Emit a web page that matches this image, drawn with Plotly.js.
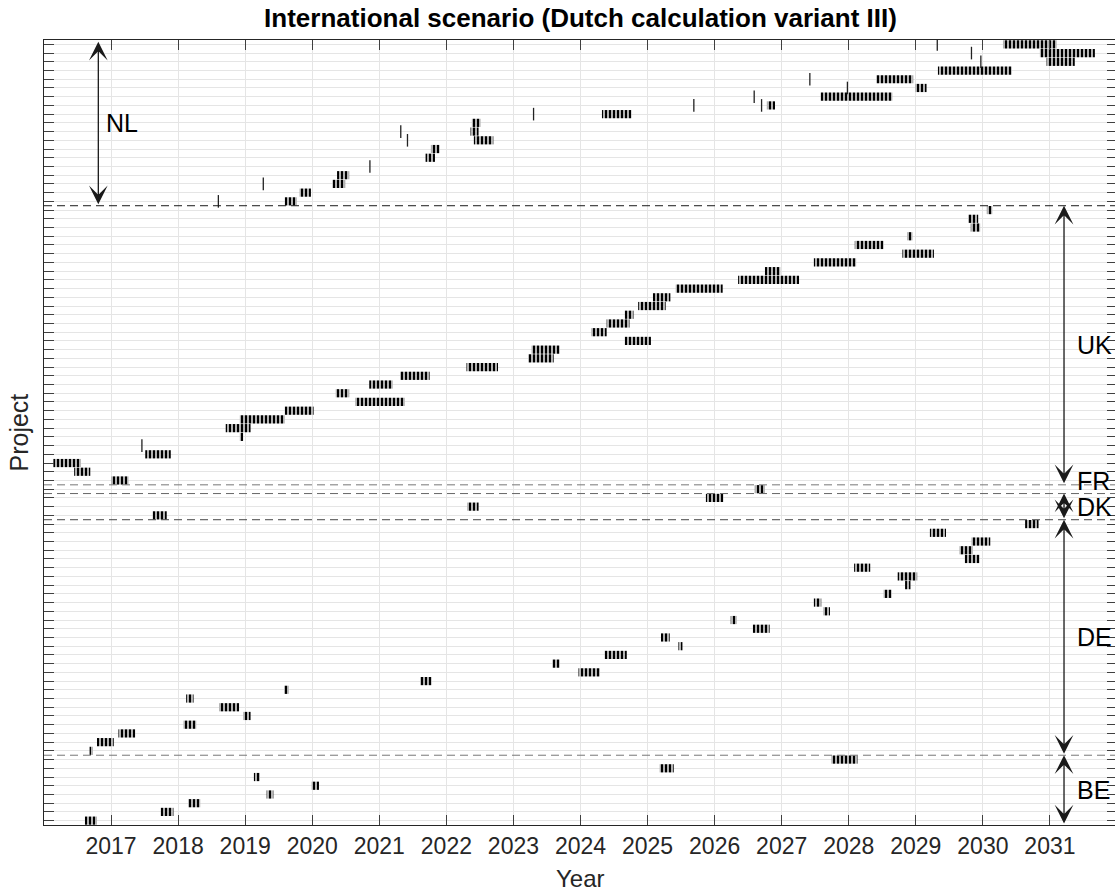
<!DOCTYPE html>
<html><head><meta charset="utf-8">
<script src="https://cdn.plot.ly/plotly-3.0.1.min.js"></script>
<style>html,body{margin:0;padding:0;overflow:hidden;background:#fff}#chart{width:1117px;height:895px}</style>
</head><body><div id="chart"></div>
<script>
// ---------------- data ----------------
const years = [2017,2018,2019,2020,2021,2022,2023,2024,2025,2026,2027,2028,2029,2030,2031];
const groups = ['BE','DE','DK','FR','UK','NL'];
const groupFirstRow = [1, 9, 36, 39, 40, 72];
const groupLastRow  = [8, 35, 38, 39, 71, 90];

// segments: [project row, start year, end year]
const nlSegments = [
 [90,2030.30,2031.10],[89,2030.85,2031.67],[88,2030.95,2031.37],[87,2029.33,2030.43],
 [86,2028.41,2028.96],[85,2028.99,2029.16],[84,2027.58,2028.65],[83,2026.78,2026.90],
 [82,2024.32,2024.76],[81,2022.38,2022.51],[80,2022.36,2022.48],[79,2022.41,2022.70],
 [78,2021.77,2021.90],[77,2021.69,2021.83],[75,2020.37,2020.55],[74,2020.30,2020.49],
 [73,2019.81,2019.98],[72,2019.59,2019.77]
];
const nlSingles = [
 [90,2029.32],[89,2029.83],[88,2029.97],[86,2027.42],[85,2027.98],[84,2026.59],[83,2025.69],
 [83,2026.70],[82,2023.30],[80,2021.32],[79,2021.42],[76,2020.86],[74,2019.27],[72,2018.60]
];
const ukSegments = [
 [71,2030.06,2030.14],[70,2029.78,2029.93],[69,2029.82,2029.96],[68,2028.87,2028.95],
 [67,2028.09,2028.52],[66,2028.80,2029.27],[65,2027.48,2028.11],[64,2026.75,2026.98],
 [63,2026.35,2027.26],[62,2025.42,2026.12],[61,2025.08,2025.34],[60,2024.86,2025.27],
 [59,2024.66,2024.79],[58,2024.39,2024.73],[57,2024.16,2024.39],[56,2024.66,2025.05],
 [55,2023.27,2023.69],[54,2023.22,2023.60],[53,2022.30,2022.77],[52,2021.31,2021.75],
 [51,2020.85,2021.20],[50,2020.35,2020.55],[49,2020.64,2021.38],[48,2019.59,2020.02],
 [47,2018.92,2019.59],[46,2018.71,2019.08],[45,2018.92,2018.97],[43,2017.51,2017.89],
 [42,2016.14,2016.55],[41,2016.45,2016.69],[40,2017.00,2017.26]
];
const ukSingles = [[44,2017.46]];
const frSegments = [[39,2026.60,2026.75]];
const dkSegments = [[38,2025.87,2026.13],[37,2022.31,2022.48],[36,2017.62,2017.83]];
const deSegments = [
 [35,2030.63,2030.83],[34,2029.21,2029.45],[33,2029.83,2030.11],[32,2029.65,2029.85],
 [31,2029.73,2029.95],[30,2028.08,2028.32],[29,2028.73,2029.02],[28,2028.84,2028.92],
 [27,2028.52,2028.64],[26,2027.48,2027.59],[25,2027.62,2027.72],[24,2026.24,2026.33],
 [23,2026.57,2026.82],[22,2025.20,2025.33],[21,2025.46,2025.52],[20,2024.36,2024.69],
 [19,2023.58,2023.69],[18,2023.97,2024.29],[17,2021.61,2021.78],[16,2019.58,2019.65],
 [15,2018.12,2018.23],[14,2018.61,2018.91],[13,2018.97,2019.08],[12,2018.08,2018.27],
 [11,2017.11,2017.36],[10,2016.79,2017.04],[9,2016.68,2016.73]
];
const beSegments = [
 [8,2027.74,2028.13],[7,2025.18,2025.39],[6,2019.13,2019.22],[5,2019.99,2020.10],
 [4,2019.32,2019.42],[3,2018.15,2018.33],[2,2017.74,2017.93],[1,2016.61,2016.79]
];

// ---------------- traces ----------------
const FONT = '"Liberation Sans", Arial, Helvetica, sans-serif';
const allSegments = [nlSegments, ukSegments, frSegments, dkSegments, deSegments, beSegments];
const allSingles = [nlSingles, ukSingles];
const traces = [];
allSegments.forEach(seg => {
  traces.push({
    type: 'bar', orientation: 'h',
    y: seg.map(s => s[0]),
    base: seg.map(s => s[1]),
    x: seg.map(s => s[2] - s[1]),
    width: 0.94,
    marker: {color: '#ffffff', line: {width: 0},
      pattern: {shape: '|', fgcolor: '#000000', bgcolor: '#ffffff', size: 4, solidity: 0.65}},
    hoverinfo: 'skip', showlegend: false
  });
});
allSingles.forEach(s => {
  traces.push({
    type: 'scatter', mode: 'markers',
    x: s.map(p => p[1]), y: s.map(p => p[0]),
    marker: {symbol: 'line-ns', size: 9, line: {width: 1.3, color: '#222'}},
    hoverinfo: 'skip', showlegend: false
  });
});

// ---------------- layout ----------------
const shapes = [];
const dashColors = {NL: '#1a1a1a', UK: '#777', FR: '#666', DK: '#444', DE: '#777'};
groups.forEach((g, i) => {
  if (g === 'BE') return;
  const yb = groupFirstRow[i] - 0.5;
  shapes.push({type: 'line', xref: 'paper', x0: 0, x1: 1, yref: 'y', y0: yb, y1: yb,
    line: {color: dashColors[g] || '#555', width: 1, dash: '8px,5px'}, layer: 'above'});
});

const annotations = [];
groups.forEach((g, i) => {
  const lo = groupFirstRow[i] - 0.5, hi = groupLastRow[i] + 0.5;
  const isNL = g === 'NL';
  const ax = isNL ? 2016.81 : 2031.21;
  annotations.push({x: ax, y: isNL ? hi - 0.2 : hi, ax: ax, ay: lo, xref: 'x', yref: 'y', axref: 'x', ayref: 'y',
    text: '', showarrow: true, arrowside: 'end+start', arrowhead: 3, startarrowhead: 3,
    arrowsize: 2.4, startarrowsize: 2.4, arrowwidth: 1.3, arrowcolor: '#1a1a1a', standoff: 0, startstandoff: 0});
  annotations.push({x: isNL ? 2016.895 : 2031.37, y: (lo + hi) / 2, xref: 'x', yref: 'y',
    text: g, showarrow: false, xanchor: 'left', yanchor: 'middle', yshift: g === 'FR' ? 8 : 0,
    font: {family: FONT, size: 25, color: '#000'}});
});
annotations.push({text: 'Project', xref: 'paper', yref: 'paper', x: -0.0233, y: 0.5, textangle: -90,
  showarrow: false, xanchor: 'center', yanchor: 'middle', font: {family: FONT, size: 25, color: '#262626'}});
annotations.push({text: 'Year', xref: 'paper', yref: 'paper', x: 0.5, y: -0.0685,
  showarrow: false, xanchor: 'center', yanchor: 'middle', font: {family: FONT, size: 24, color: '#262626'}});

const rowTicks = [];
for (let r = groupFirstRow[0]; r <= groupLastRow[groupLastRow.length - 1]; r++) rowTicks.push(r);

const layout = {
  width: 1117, height: 895,
  margin: {l: 44, r: 0, t: 40, b: 70},
  paper_bgcolor: '#fff', plot_bgcolor: '#fff',
  barmode: 'overlay',
  title: {text: '<b>International scenario (Dutch calculation variant III)</b>', x: 0.5, xref: 'paper',
    y: 1 - 18 / 895, yref: 'container', yanchor: 'middle', font: {family: FONT, size: 26, color: '#000'}},
  xaxis: {range: [2016, 2032], tickvals: years, ticktext: years.map(String), ticks: 'inside', ticklen: 10,
    tickcolor: '#404040', showline: true, linecolor: '#262626', linewidth: 1, mirror: 'ticks',
    showgrid: true, gridcolor: '#e5e5e5', zeroline: false,
    tickfont: {family: FONT, size: 23, color: '#262626'}},
  yaxis: {range: [0.5, 90.5], tickvals: rowTicks, showticklabels: false, ticks: 'inside', ticklen: 10,
    tickcolor: '#404040', showline: true, linecolor: '#262626', linewidth: 1, mirror: 'ticks',
    showgrid: true, gridcolor: '#e5e5e5', zeroline: false},
  shapes: shapes,
  annotations: annotations,
  font: {family: FONT}
};

Plotly.newPlot('chart', traces, layout, {staticPlot: true, displayModeBar: false});
</script></body></html>
